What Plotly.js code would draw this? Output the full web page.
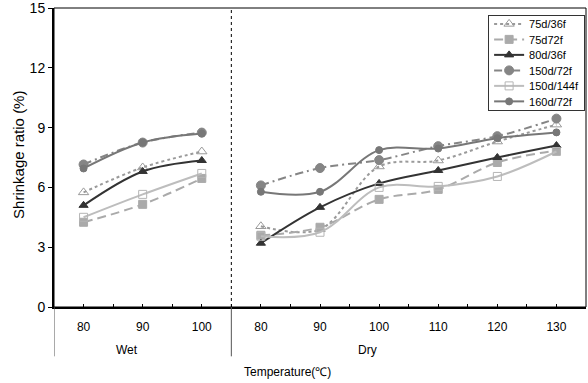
<!DOCTYPE html>
<html>
<head>
<meta charset="utf-8">
<script src="https://cdn.plot.ly/plotly-3.0.1.min.js"></script>
<style>html,body{margin:0;padding:0;background:#fff;}#chart{width:588px;height:383px;}</style>
</head>
<body>
<div id="chart"></div>
<script>
// Tick labels / categories
const wetTemps = ["80", "90", "100"];
const dryTemps = ["80", "90", "100", "110", "120", "130"];
const groupLabels = ["Wet", "Dry"];
const seriesNames = ["75d/36f", "75d72f", "80d/36f", "150d/72f", "150d/144f", "160d/72f"];

// Shrinkage ratio (%) - wet
const wet_75d36f  = [5.75, 7.0, 7.8];
const wet_75d72f  = [4.25, 5.15, 6.45];
const wet_80d36f  = [5.1, 6.8, 7.35];
const wet_150d72f = [7.15, 8.25, 8.75];
const wet_150d144f= [4.5, 5.65, 6.7];
const wet_160d72f = [6.95, 8.25, 8.7];

// Shrinkage ratio (%) - dry
const dry_75d36f  = [4.05, 3.9, 7.05, 7.35, 8.3, 9.15];
const dry_75d72f  = [3.6, 4.0, 5.4, 5.9, 7.25, 7.85];
const dry_80d36f  = [3.2, 5.0, 6.2, 6.85, 7.5, 8.1];
const dry_150d72f = [6.1, 6.97, 7.37, 8.07, 8.57, 9.45];
const dry_150d144f= [3.55, 3.75, 6.0, 6.05, 6.55, 7.8];
const dry_160d72f = [5.78, 5.78, 7.87, 7.95, 8.47, 8.76];

const wetData = [wet_75d36f, wet_75d72f, wet_80d36f, wet_150d72f, wet_150d144f, wet_160d72f];
const dryData = [dry_75d36f, dry_75d72f, dry_80d36f, dry_150d72f, dry_150d144f, dry_160d72f];

const styles = [
  {color:"#9a9a9a", dash:"dot", width:2, symbol:"triangle-up-open", size:9, mcolor:"#9a9a9a"},
  {color:"#aaaaaa", dash:"9px,5px", width:2, symbol:"square", size:8, mcolor:"#aaaaaa"},
  {color:"#333333", dash:"solid", width:2, symbol:"triangle-up", size:8, mcolor:"#333333"},
  {color:"#858585", dash:"8px,4px,2px,4px", width:2, symbol:"circle", size:9, mcolor:"#858585"},
  {color:"#bdbdbd", dash:"solid", width:2, symbol:"square-open", size:8, mcolor:"#b5b5b5"},
  {color:"#777777", dash:"solid", width:2, symbol:"circle", size:7, mcolor:"#777777"}
];

const nWet = wetTemps.length;
const xs = [];
wetTemps.forEach((_, i) => xs.push(i));
xs.push(nWet - 0.5);
dryTemps.forEach((_, i) => xs.push(nWet + i));

const traces = seriesNames.map((name, k) => {
  const st = styles[k];
  return {
    type: "scatter",
    mode: "lines+markers",
    name: name,
    x: xs,
    y: wetData[k].concat([null]).concat(dryData[k]),
    connectgaps: false,
    line: {color: st.color, dash: st.dash, width: st.width, shape: "spline", smoothing: 1},
    marker: {symbol: st.symbol, size: st.size, color: st.mcolor, line: {color: st.mcolor, width: 1}}
  };
});

const allLabels = wetTemps.concat(dryTemps);
const tickvals = [], ticktext = [];
for (let v = 0; v <= allLabels.length - 1 + 1e-9; v += 0.5) {
  tickvals.push(v);
  ticktext.push(Number.isInteger(v) ? allLabels[v] : "");
}

const sep = nWet - 0.5;
const layout = {
  width: 588, height: 383,
  margin: {l: 54, r: 2, t: 8, b: 76},
  paper_bgcolor: "#fff", plot_bgcolor: "#fff",
  font: {family: "Liberation Sans, Arial, sans-serif", color: "#000", size: 12},
  showlegend: true,
  legend: {x: 0.816, y: 0.977, xanchor: "left", yanchor: "top", bgcolor: "#fff",
           bordercolor: "#333", borderwidth: 1, font: {size: 11}, itemwidth: 30, tracegroupgap: 0},
  xaxis: {range: [-0.5, allLabels.length - 0.5], tickmode: "array", tickvals: tickvals, ticktext: ticktext,
          ticks: "inside", ticklen: 3, tickcolor: "#000", showline: true, linecolor: "#000", linewidth: 2,
          showgrid: false, zeroline: false, ticklabelstandoff: 8, tickfont: {size: 12}},
  yaxis: {range: [0, 15], dtick: 3, tick0: 0, ticks: "outside", ticklen: 4, tickcolor: "#000",
          showline: true, linecolor: "#000", linewidth: 2, showgrid: false, zeroline: false,
          tickfont: {size: 14}, ticklabeloverflow: "allow"},
  shapes: [
    {type: "rect", xref: "paper", yref: "paper", x0: 0, x1: 1, y0: 0, y1: 1, line: {color: "#000", width: 1}},
    {type: "line", xref: "x", yref: "paper", x0: sep, x1: sep, y0: 0, y1: 1, line: {color: "#000", width: 1, dash: "dot"}},
    {type: "line", xref: "x", yref: "paper", x0: sep, x1: sep, y0: -0.165, y1: 0, line: {color: "#555", width: 1}},
    {type: "line", xref: "x", yref: "paper", x0: -0.5, x1: -0.5, y0: -0.165, y1: 0, line: {color: "#555", width: 1}}
  ],
  annotations: [
    {text: groupLabels[0], xref: "x", yref: "paper", x: 0.73, y: -0.144, showarrow: false, font: {size: 12}, xanchor: "center", yanchor: "middle"},
    {text: groupLabels[1], xref: "x", yref: "paper", x: 4.81, y: -0.144, showarrow: false, font: {size: 12}, xanchor: "center", yanchor: "middle"},
    {text: "Temperature(℃)", xref: "paper", yref: "paper", x: 0.438, y: -0.217, showarrow: false, font: {size: 12}, xanchor: "center", yanchor: "middle"},
    {text: "Shrinkage ratio (%)", xref: "paper", yref: "paper", x: -0.068, y: 0.508, textangle: -90, showarrow: false, font: {size: 15}, xanchor: "center", yanchor: "middle"}
  ]
};

Plotly.newPlot("chart", traces, layout, {displayModeBar: false, staticPlot: true}).then(gd => {
  // tighten legend row spacing to match the compact reference legend
  const leg = gd.querySelector(".legend");
  if (!leg) return;
  const rows = leg.querySelectorAll(".traces");
  const step = 15.5, first = 9;
  rows.forEach((r, i) => {
    const m = /translate\(([-\d.]+)[ ,]+([-\d.]+)\)/.exec(r.getAttribute("transform") || "");
    const tx = m ? m[1] : 0;
    r.setAttribute("transform", "translate(" + tx + "," + (first + i * step) + ")");
  });
  const bg = leg.querySelector("rect.bg");
  if (bg) bg.setAttribute("height", first + (rows.length - 1) * step + 9);
});
</script>
</body>
</html>
